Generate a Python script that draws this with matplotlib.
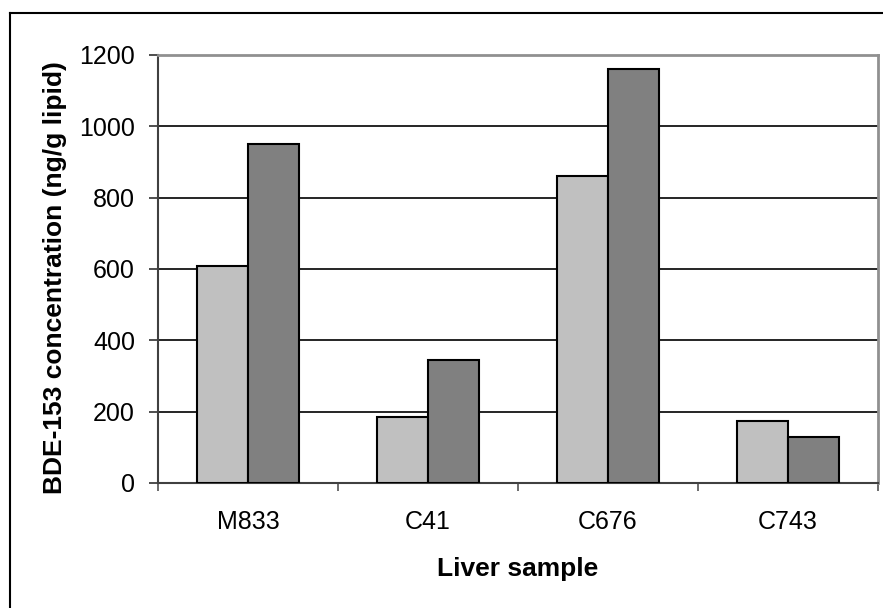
import numpy as np
import matplotlib
matplotlib.use("Agg")
import matplotlib.pyplot as plt
from matplotlib.lines import Line2D

plt.rcParams['font.family'] = ['Liberation Sans', 'DejaVu Sans']

# Data
samples = ["M833", "C41", "C676", "C743"]
series_a = [609, 185, 862, 174]
series_b = [950, 346, 1160, 129]
y_ticks = [0, 200, 400, 600, 800, 1000, 1200]

fig = plt.figure(figsize=(8.83, 6.08), dpi=100)
ax = fig.add_axes([158 / 883, 1 - 483 / 608, 720 / 883, 428 / 608])

x = np.arange(len(samples))
w = 1 / 3.5
ax.bar(x - w / 2, series_a, width=w, color="#c0c0c0", edgecolor="black",
       linewidth=1.5, zorder=3)
ax.bar(x + w / 2, series_b, width=w, color="#808080", edgecolor="black",
       linewidth=1.5, zorder=3)

ax.set_xlim(-0.5, len(samples) - 0.5)
ax.set_ylim(0, 1200)

# horizontal gridlines
for v in y_ticks[1:-1]:
    ax.axhline(v, color="black", linewidth=1.2, zorder=1)

ax.set_yticks(y_ticks)
ax.set_yticklabels([str(v) for v in y_ticks], fontsize=18)
ax.set_xticks(np.arange(-0.5, len(samples), 1.0))
ax.set_xticklabels([])
ax.set_xticks(x, minor=True)
ax.set_xticklabels(samples, minor=True, fontsize=18)
ax.tick_params(axis="x", which="minor", length=0, pad=19.5)
ax.tick_params(axis="x", which="major", length=6, width=1.3, color="#606060",
               direction="out")
ax.tick_params(axis="y", length=6.5, width=1.3, color="#404040", pad=10)

for side in ("left", "bottom"):
    ax.spines[side].set_color("#404040")
    ax.spines[side].set_linewidth(1.5)
for side in ("top", "right"):
    ax.spines[side].set_color("#909090")
    ax.spines[side].set_linewidth(2)

ax.set_xlabel("Liver sample", fontsize=19, fontweight="bold")
ax.set_ylabel("BDE-153 concentration (ng/g lipid)", fontsize=19,
              fontweight="bold")
ax.xaxis.set_label_coords(0.5, -0.173)
ax.yaxis.set_label_coords(-0.1264, 0.479)

# frame around the figure
fig.add_artist(Line2D([10 / 883, 1], [1 - 13 / 608, 1 - 13 / 608],
                      color="black", linewidth=1.5, transform=fig.transFigure))
fig.add_artist(Line2D([10 / 883, 10 / 883], [0, 1 - 13 / 608],
                      color="black", linewidth=1.5, transform=fig.transFigure))

fig.savefig("out.png", dpi=100)
